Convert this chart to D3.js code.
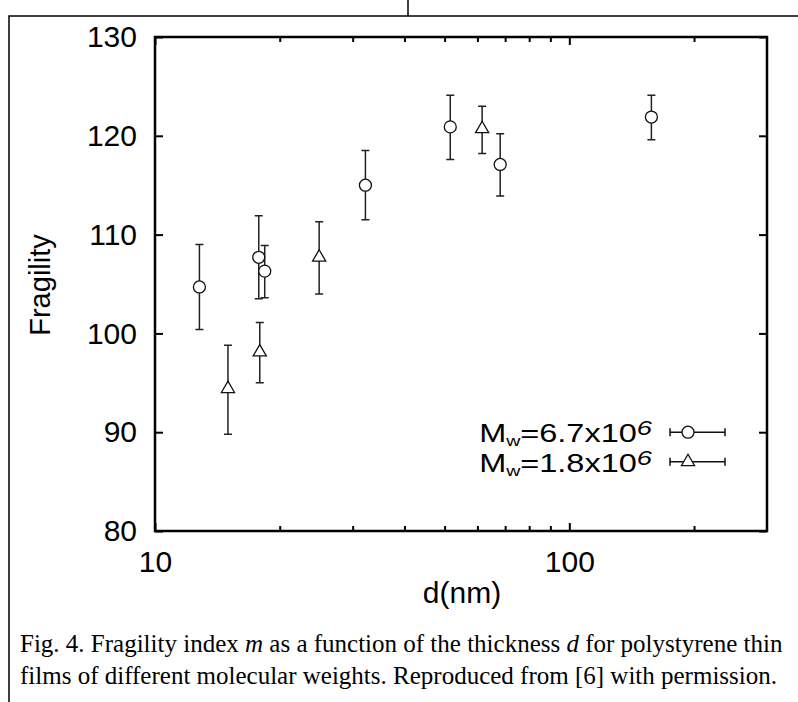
<!DOCTYPE html>
<html><head><meta charset="utf-8">
<script src="https://cdn.jsdelivr.net/npm/d3@7"></script>
<style>body{margin:0;background:#fff}svg{display:block}</style>
</head><body>
<svg id="c" width="798" height="702"></svg>
<script>
// Data
const circleD    = [12.8, 17.8, 18.4, 32.2, 51.6, 68.1, 157.8];
const circleM    = [104.7, 107.7, 106.3, 115.0, 120.9, 117.1, 121.9];
const circleLo   = [100.4, 103.5, 103.6, 111.5, 117.6, 113.9, 119.6];
const circleHi   = [109.0, 111.9, 108.9, 118.5, 124.1, 120.2, 124.1];
const triD       = [15.0, 17.9, 24.9, 61.6];
const triM       = [94.4, 98.1, 107.7, 120.7];
const triLo      = [89.8, 95.0, 104.0, 118.2];
const triHi      = [98.8, 101.1, 111.3, 123.0];
const yTicks     = [80, 90, 100, 110, 120, 130];
const xMajor     = [10, 100];
const xMinor     = [20, 30, 40, 50, 60, 70, 80, 90, 200];
const legendVals = ["6.7x10", "1.8x10"];

const svg = d3.select("#c");
const L = 155, R = 767, T = 37, B = 531;
const x = d3.scaleLog().domain([10, 300]).range([L, R]);
const y = d3.scaleLinear().domain([80, 130]).range([B, T]);
const sans = "'Liberation Sans',Arial,sans-serif";

// outer frame
svg.append("path").attr("d", "M9,702V16H798M408,0V16").attr("fill","none").attr("stroke","#000").attr("stroke-width",1.5);

// axes
const g = svg.append("g");
g.append("g").attr("transform",`translate(${L},0)`)
  .call(d3.axisLeft(y).tickValues(yTicks).tickSize(-8).tickPadding(18).tickFormat(d3.format("d")));
g.append("g").attr("transform",`translate(${R},0)`)
  .call(d3.axisRight(y).tickValues(yTicks).tickSize(-8).tickFormat(""));
g.append("g").attr("transform",`translate(0,${B})`)
  .call(d3.axisBottom(x).tickValues(xMajor).tickSize(-8).tickPadding(20).tickFormat(d3.format("d")));
g.append("g").attr("transform",`translate(0,${T})`)
  .call(d3.axisTop(x).tickValues(xMajor).tickSize(-8).tickFormat(""));
g.append("g").attr("transform",`translate(0,${B})`)
  .call(d3.axisBottom(x).tickValues(xMinor).tickSize(-5).tickFormat(""));
g.append("g").attr("transform",`translate(0,${T})`)
  .call(d3.axisTop(x).tickValues(xMinor).tickSize(-5).tickFormat(""));
g.selectAll(".domain").remove();
g.selectAll(".tick line").attr("stroke","#000").attr("stroke-width",2);
g.selectAll(".tick text").attr("font-family",sans).attr("font-size",30).attr("fill","#000");
svg.append("rect").attr("x",L).attr("y",T).attr("width",R-L).attr("height",B-T)
  .attr("fill","none").attr("stroke","#000").attr("stroke-width",2.5);

// axis titles
svg.append("text").attr("x",462).attr("y",603).attr("text-anchor","middle")
  .attr("font-family",sans).attr("font-size",30).text("d(nm)");
svg.append("text").attr("transform","translate(50,285) rotate(-90)").attr("text-anchor","middle")
  .attr("font-family",sans).attr("font-size",29).text("Fragility");

// error bars
function errBars(D, M, Lo, Hi) {
  const eg = svg.append("g").attr("stroke","#222").attr("stroke-width",1.5).attr("fill","none");
  D.forEach((d,i)=>{
    const cx = x(d);
    eg.append("path").attr("d",`M${cx},${y(Lo[i])}V${y(Hi[i])}M${cx-4},${y(Lo[i])}H${cx+4}M${cx-4},${y(Hi[i])}H${cx+4}`);
  });
}
errBars(circleD, circleM, circleLo, circleHi);
errBars(triD, triM, triLo, triHi);

const tri = d3.symbol().type(d3.symbolTriangle).size(75);
svg.append("g").selectAll("circle").data(circleD).join("circle")
  .attr("cx",d=>x(d)).attr("cy",(d,i)=>y(circleM[i])).attr("r",6)
  .attr("fill","#fff").attr("stroke","#111").attr("stroke-width",1.3);
svg.append("g").selectAll("path").data(triD).join("path")
  .attr("d",tri).attr("transform",(d,i)=>`translate(${x(d)},${y(triM[i])})`)
  .attr("fill","#fff").attr("stroke","#111").attr("stroke-width",1.3);

// legend
const rowsY = [y(90), y(87)];
legendVals.forEach((v,i)=>{
  const t = svg.append("text").attr("transform",`translate(652,${rowsY[i]+10}) scale(1.3,1)`).attr("text-anchor","end")
    .attr("font-family",sans).attr("font-size",25);
  t.append("tspan").text("M");
  t.append("tspan").attr("font-size",15).attr("dy",4).text("w");
  t.append("tspan").attr("dy",-4).text("=" + v);
  t.append("tspan").attr("font-size",21).attr("font-style","italic").attr("dy",-7).text("6");
  const ly = rowsY[i];
  svg.append("path").attr("d",`M670,${ly}H725M670,${ly-4}V${ly+4}M725,${ly-4}V${ly+4}`)
    .attr("stroke","#111").attr("stroke-width",1.5).attr("fill","none");
  if (i===0) svg.append("circle").attr("cx",688).attr("cy",ly).attr("r",6).attr("fill","#fff").attr("stroke","#111").attr("stroke-width",1.3);
  else svg.append("path").attr("d",tri).attr("transform",`translate(688,${ly})`).attr("fill","#fff").attr("stroke","#111").attr("stroke-width",1.3);
});

// caption
const cap = svg.append("text").attr("font-family","'Liberation Serif','Times New Roman',serif").attr("font-size",25).attr("fill","#000");
const l1 = cap.append("tspan").attr("x",20).attr("y",652);
l1.append("tspan").text("Fig. 4. Fragility index ");
l1.append("tspan").attr("font-style","italic").text("m");
l1.append("tspan").text(" as a function of the thickness ");
l1.append("tspan").attr("font-style","italic").text("d");
l1.append("tspan").text(" for polystyrene thin");
cap.append("tspan").attr("x",20).attr("y",684).text("films of different molecular weights. Reproduced from [6] with permission.");
</script>
</body></html>
